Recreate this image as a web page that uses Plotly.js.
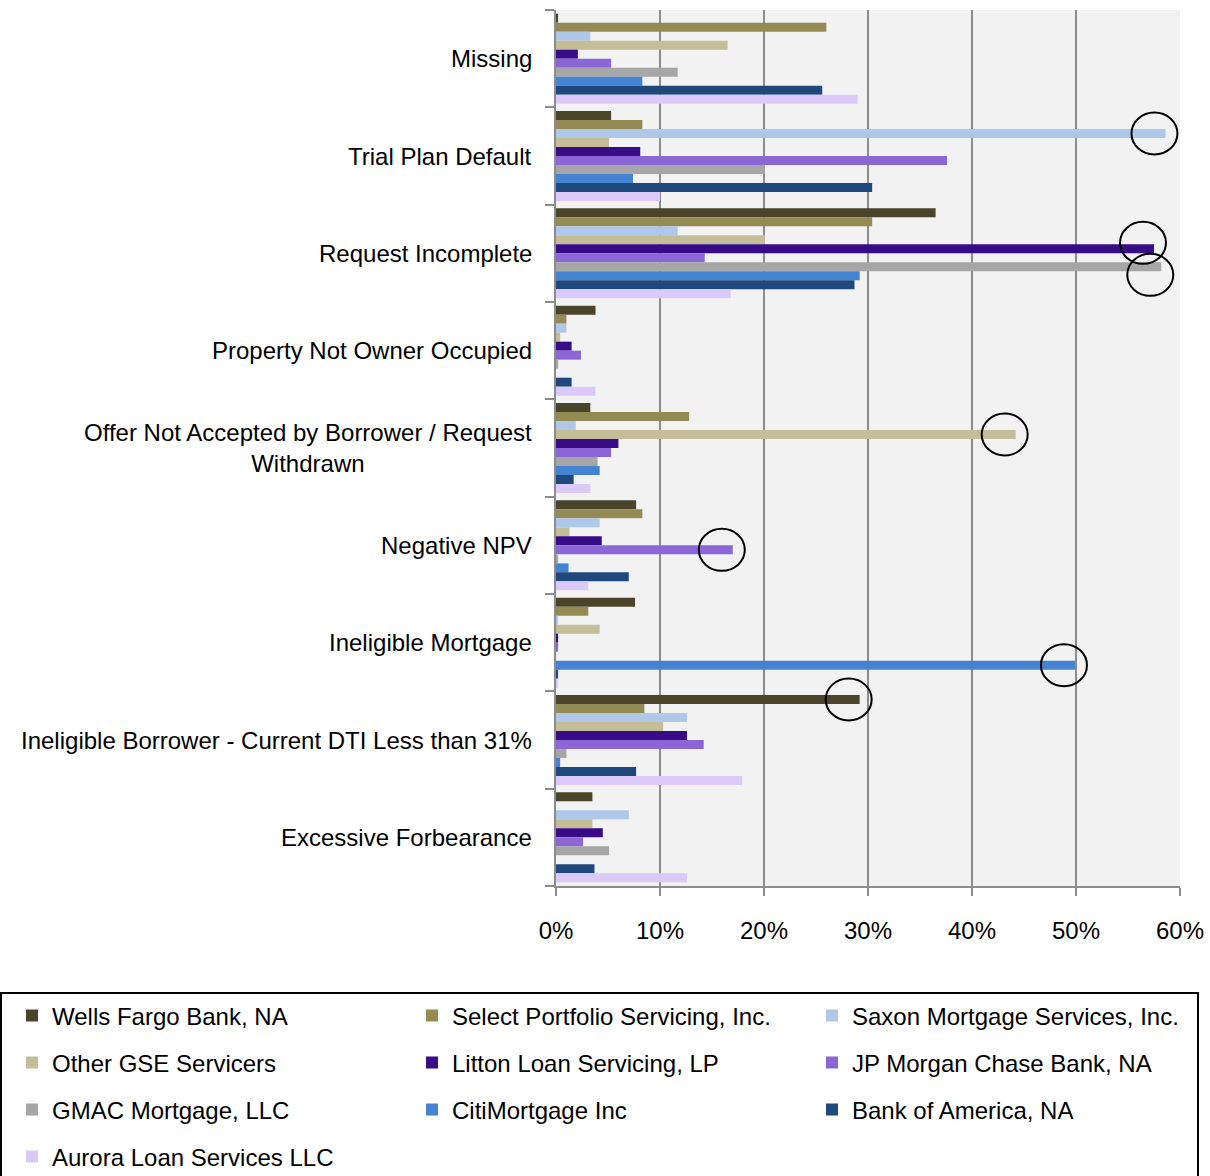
<!DOCTYPE html>
<html>
<head>
<meta charset="utf-8">
<script src="https://cdn.plot.ly/plotly-3.0.1.min.js"></script>
<style>
html,body{margin:0;padding:0;background:#fff;}
#chart{width:1210px;height:1176px;}
</style>
</head>
<body>
<div id="chart"></div>
<script>
// Categories (top to bottom)
const categories = [
  "Missing",
  "Trial Plan Default",
  "Request Incomplete",
  "Property Not Owner Occupied",
  "Offer Not Accepted by Borrower / Request<br>Withdrawn",
  "Negative NPV",
  "Ineligible Mortgage",
  "Ineligible Borrower - Current DTI Less than 31%",
  "Excessive Forbearance"
];

// Series names
const seriesNames = [
  "Wells Fargo Bank, NA",
  "Select Portfolio Servicing, Inc.",
  "Saxon Mortgage Services, Inc.",
  "Other GSE Servicers",
  "Litton Loan Servicing, LP",
  "JP Morgan Chase Bank, NA",
  "GMAC Mortgage, LLC",
  "CitiMortgage Inc",
  "Bank of America, NA",
  "Aurora Loan Services LLC"
];

// Values in percent, one array per series, in category order
const wellsFargo      = [0.2, 5.3, 36.5, 3.8, 3.3, 7.7, 7.6, 29.2, 3.5];
const selectPortfolio = [26.0, 8.3, 30.4, 1.0, 12.8, 8.3, 3.1, 8.5, 0];
const saxon           = [3.3, 58.6, 11.7, 1.0, 1.9, 4.2, 0.2, 12.6, 7.0];
const otherGSE        = [16.5, 5.1, 20.1, 0.4, 44.2, 1.3, 4.2, 10.3, 3.5];
const litton          = [2.1, 8.1, 57.5, 1.5, 6.0, 4.4, 0.2, 12.6, 4.5];
const jpMorgan        = [5.3, 37.6, 14.3, 2.4, 5.3, 17.0, 0.2, 14.2, 2.6];
const gmac            = [11.7, 20.1, 58.2, 0.2, 4.0, 0.2, 0, 1.0, 5.1];
const citi            = [8.3, 7.4, 29.2, 0, 4.2, 1.2, 49.9, 0.4, 0];
const bankOfAmerica   = [25.6, 30.4, 28.7, 1.5, 1.7, 7.0, 0.2, 7.7, 3.7];
const aurora          = [29.0, 10.0, 16.8, 3.8, 3.3, 3.1, 0.2, 17.9, 12.6];

const seriesValues = [wellsFargo, selectPortfolio, saxon, otherGSE, litton,
                      jpMorgan, gmac, citi, bankOfAmerica, aurora];

const seriesColors = ["#4a442a", "#948a54", "#afc7e8", "#c4bd97", "#380b87",
                      "#8c66d6", "#a6a6a6", "#4483d1", "#1f497d", "#dac9f9"];

// Highlighted bars (circled): [category index, series index]
const highlights = [[1, 2], [2, 4], [2, 6], [4, 3], [5, 5], [6, 7], [7, 0]];
// small vertical nudge (px) of each highlight circle, so overlapping ones separate
const highlightNudge = [0, -6, 8, 0, 0, 0, 0];

// x-axis ticks
const xTickVals = [0, 10, 20, 30, 40, 50, 60];
const xTickText = xTickVals.map(v => v + "%");

const FONT = "Liberation Sans, Arial, sans-serif";
const FS = 24;
const W = 1210, H = 1176;
const bargap = 0.075;
const nSeries = seriesNames.length;

// legend grid (3 columns, row-major)
const legCols = 3;
const legColX = [12, 412, 812];      // px, legend box left
const legRowY0 = 1016, legRowDy = 47; // px, row centers

const legendKey = i => (i === 0 ? "legend" : "legend" + (i + 1));

const traces = seriesNames.map((name, i) => ({
  type: "bar",
  orientation: "h",
  name: name,
  legend: legendKey(i),
  x: seriesValues[i],
  y: categories.map((c, k) => k),
  marker: { color: seriesColors[i], line: { width: 0 } },
  hoverinfo: "x+name"
}));

const groupW = 1 - bargap;
const barW = groupW / nSeries;
const shapes = highlights.map(([c, s], j) => ({
  type: "circle",
  xref: "x", yref: "y",
  xsizemode: "pixel", ysizemode: "pixel",
  xanchor: seriesValues[s][c],
  yanchor: c - groupW / 2 + barW * (s + 0.5),
  x0: -34, x1: 12,
  y0: -21 - highlightNudge[j], y1: 21 - highlightNudge[j],
  line: { color: "#000", width: 2 },
  fillcolor: "rgba(0,0,0,0)"
}));

// legend frame
const plotL = 556, plotW = 624, plotB = 886, plotH = 876;
shapes.push({
  type: "rect", xref: "paper", yref: "paper",
  x0: (1 - plotL) / plotW, x1: (1198 - plotL) / plotW,
  y0: (plotB - 993) / plotH, y1: (plotB - 1185) / plotH,
  line: { color: "#000", width: 2 },
  fillcolor: "rgba(0,0,0,0)"
});

const annotations = categories.map((c, k) => ({
  xref: "paper", yref: "y",
  x: 0, y: k,
  xanchor: "right", yanchor: "middle",
  xshift: -22,
  text: c,
  align: "center",
  showarrow: false,
  font: { family: FONT, size: FS, color: "#000" }
}));

const layout = {
  width: W, height: H,
  margin: { l: plotL, r: W - plotL - plotW, t: 10, b: H - plotB, autoexpand: false },
  paper_bgcolor: "#ffffff",
  plot_bgcolor: "#f2f2f2",
  barmode: "group",
  bargap: bargap,
  bargroupgap: 0,
  font: { family: FONT, size: FS, color: "#000" },
  showlegend: true,
  xaxis: {
    range: [0, 60],
    tickmode: "array",
    tickvals: xTickVals,
    ticktext: xTickText,
    showgrid: true,
    gridcolor: "#8c8c8c",
    gridwidth: 2,
    zeroline: false,
    showline: true,
    linecolor: "#8c8c8c",
    linewidth: 2,
    ticks: "outside",
    ticklen: 8,
    tickwidth: 2,
    tickcolor: "#8c8c8c",
    ticklabelstandoff: 14,
    tickfont: { family: FONT, size: FS, color: "#000" },
    automargin: false,
    fixedrange: true
  },
  yaxis: {
    type: "linear",
    range: [8.5, -0.5],
    tickvals: [-0.5, 0.5, 1.5, 2.5, 3.5, 4.5, 5.5, 6.5, 7.5, 8.5],
    showticklabels: false,
    showgrid: false,
    zeroline: false,
    showline: true,
    linecolor: "#8c8c8c",
    linewidth: 2,
    ticks: "outside",
    ticklen: 9,
    tickwidth: 2,
    tickcolor: "#8c8c8c",
    automargin: false,
    fixedrange: true
  },
  shapes: shapes,
  annotations: annotations
};

seriesNames.forEach((n, i) => {
  const col = i % legCols, row = Math.floor(i / legCols);
  layout[legendKey(i)] = {
    orientation: "v",
    xref: "container", yref: "container",
    x: legColX[col] / W,
    y: 1 - (legRowY0 + row * legRowDy) / H,
    xanchor: "left", yanchor: "middle",
    borderwidth: 0,
    bgcolor: "rgba(0,0,0,0)",
    font: { family: FONT, size: FS, color: "#000" },
    itemclick: false, itemdoubleclick: false
  };
});

Plotly.newPlot("chart", traces, layout, { displayModeBar: false, staticPlot: true });
</script>
</body>
</html>
